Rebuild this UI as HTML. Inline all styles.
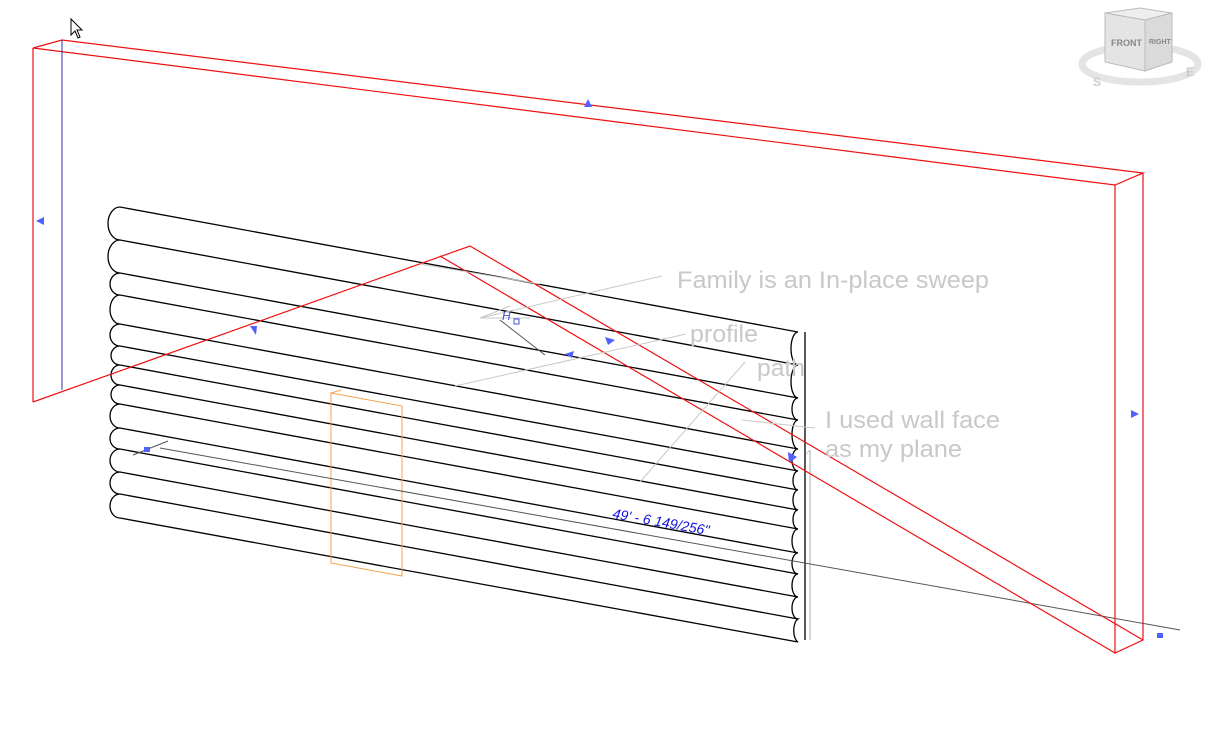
<!DOCTYPE html>
<html><head><meta charset="utf-8"><style>
html,body{margin:0;padding:0;background:#fff;width:1224px;height:729px;overflow:hidden}
svg{display:block}
text{font-family:"Liberation Sans",sans-serif}
</style></head><body>
<svg width="1224" height="729" viewBox="0 0 1224 729">
<g stroke="#000" stroke-width="1.3" fill="none">
<path d="M120 207L798 332M120 240L798 365M120 273L798 398M120 295L798 420M120 324L798 449M120 346L798 471M120 365L798 490M120 385L798 510M120 404L798 529M120 428L798 553M120 449L798 574M120 472L798 597M120 494L798 619M120 518L798 642"/>
<path d="M120 207A12 16.5 0 0 0 120 240A12 16.5 0 0 0 120 273A10 11 0 0 0 120 295A10 14.5 0 0 0 120 324A10 11 0 0 0 120 346A9 9.5 0 0 0 120 365A9 10 0 0 0 120 385A9 9.5 0 0 0 120 404A10 12 0 0 0 120 428A10 10.5 0 0 0 120 449A10 11.5 0 0 0 120 472A10 11 0 0 0 120 494A10 12 0 0 0 120 518"/>
<path d="M798 332A7 16.5 0 0 0 798 365A7 16.5 0 0 0 798 398A6 11 0 0 0 798 420A6 14.5 0 0 0 798 449A6 11 0 0 0 798 471A5 9.5 0 0 0 798 490A5 10 0 0 0 798 510A5 9.5 0 0 0 798 529A6 12 0 0 0 798 553A6 10.5 0 0 0 798 574A6 11.5 0 0 0 798 597A6 11 0 0 0 798 619A6 12 0 0 0 798 642"/>
<path d="M805 332L805 640"/>
</g>
<path d="M810 450L810 640" stroke="#aaa" fill="none"/>
<g stroke="#f5a050" fill="none" stroke-width="1">
<path d="M331 393L331 563L402 576L402 406Z"/>
<path d="M331 393L341 390"/>
</g>
<g stroke="#555" fill="none" stroke-width="1">
<path d="M160 448L1180 630"/>
<path d="M133 455L168 441"/>
</g>
<rect x="144" y="447" width="6" height="5" fill="#5060ff"/>
<rect x="1157" y="633" width="6" height="5" fill="#5060ff"/>
<text x="612" y="518" fill="#1010e0" font-size="14" font-style="italic" transform="rotate(10.1 612 518)">49' - 6 149/256"</text>
<g stroke="#ee1111" fill="none" stroke-width="1.2">
<path d="M33 48L62 40L1143 173L1115 185Z"/>
<path d="M33 48L33 402"/>
<path d="M1115 185L1115 653L1143 640L1143 173"/>
<path d="M33 402L470 246L1143 640"/>
<path d="M440 256L1115 653"/>
</g>
<path d="M62 40L62 390" stroke="#3030a0" stroke-width="1" fill="none"/>
<g fill="#5060ff">
<polygon points="584,107 592,107 588,99"/>
<polygon points="36,221 44,217 44,225"/>
<polygon points="250,326 257,326 256,335"/>
<polygon points="605,337 615,340 608,345"/>
<polygon points="565,354 574,351 572,358"/>
<polygon points="1131,410 1139,414 1131,418"/>
<polygon points="788,452 797,457 789,463"/>
</g>
<g stroke="#c8c8c8" fill="none" stroke-width="1">
<path d="M662 276L480 318M480 318L510 306M480 318L530 318"/>
<path d="M686 334L455 386"/>
<path d="M745 362L640 482"/>
<path d="M815 428L742 420"/>
<path d="M806 454L810 450"/>
<path d="M420 264L540 284"/>
</g>
<path d="M500 320L545 355" stroke="#555" fill="none"/>
<text x="502" y="320" fill="#4050d0" font-size="12" font-style="italic">H</text>
<rect x="514" y="319" width="5" height="5" fill="none" stroke="#4050d0"/>
<g fill="#c8c8c8" font-size="24">
<text x="677" y="288" textLength="312" lengthAdjust="spacingAndGlyphs">Family is an In-place sweep</text>
<text x="690" y="342" textLength="68" lengthAdjust="spacingAndGlyphs">profile</text>
<text x="757" y="376" textLength="48" lengthAdjust="spacingAndGlyphs">path</text>
<text x="825" y="428" textLength="175" lengthAdjust="spacingAndGlyphs">I used wall face</text>
<text x="825" y="457" textLength="137" lengthAdjust="spacingAndGlyphs">as my plane</text>
</g>
<path d="M71 19L71 35L75 31L78 38L80 37L77 30L82 30Z" fill="#fff" stroke="#000" stroke-width="1"/>
<g>
<ellipse cx="1140" cy="64" rx="58" ry="18" fill="none" stroke="#e4e4e4" stroke-width="7"/>
<polygon points="1105,13 1140,8 1172,13 1145,20" fill="#eee" stroke="#bbb"/>
<polygon points="1105,13 1145,20 1145,71 1105,62" fill="#e4e4e4" stroke="#bbb"/>
<polygon points="1145,20 1172,13 1172,62 1145,71" fill="#dadada" stroke="#bbb"/>
<text x="1111" y="46" font-size="9" fill="#888" font-weight="bold">FRONT</text>
<text x="1149" y="44" font-size="7" fill="#888" font-weight="bold">RIGHT</text>
<text x="1093" y="86" font-size="12" fill="#ccc" font-weight="bold">S</text>
<text x="1186" y="76" font-size="12" fill="#ccc" font-weight="bold">E</text>
</g>
</svg>
</body></html>
